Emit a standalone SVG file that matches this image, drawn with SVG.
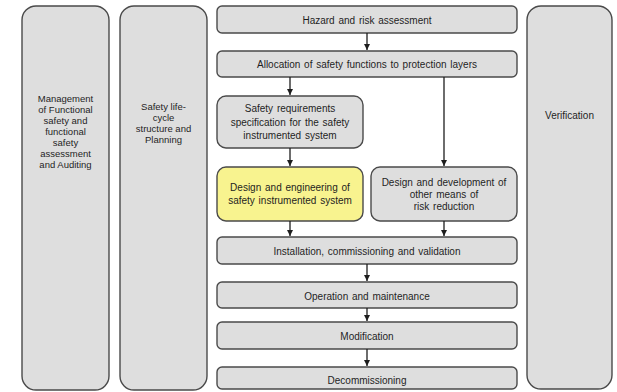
<svg xmlns="http://www.w3.org/2000/svg" width="617" height="392" viewBox="0 0 617 392">
<defs>
<style>
.b{fill:#dedede;stroke:#4a4a4a;stroke-width:1.4}
.y{fill:#f8f38f;stroke:#4a4a4a;stroke-width:1.4}
text{font-family:"Liberation Sans",Arial,sans-serif;fill:#1e1e1e;text-anchor:middle;dominant-baseline:central}
.t10{font-size:10px;word-spacing:1px}
.t9{font-size:9.5px}
.c{stroke:#1e1e1e;stroke-width:1.3;fill:none;marker-end:url(#ah)}
</style>
<marker id="ah" viewBox="0 0 8 8" refX="8" refY="4" markerWidth="6" markerHeight="6" markerUnits="userSpaceOnUse" orient="auto">
<path d="M0,0 L8,4 L0,8 z" fill="#1e1e1e"/>
</marker>
</defs>
<rect width="617" height="392" fill="#ffffff"/>
<g id="management">
<rect class="b" x="22" y="6" width="87" height="384" rx="14"/>
<text class="t9" x="65.5"><tspan x="65.5" y="98">Management</tspan><tspan x="65.5" y="109">of Functional</tspan><tspan x="65.5" y="120">safety and</tspan><tspan x="65.5" y="131">functional</tspan><tspan x="65.5" y="142">safety</tspan><tspan x="65.5" y="153">assessment</tspan><tspan x="65.5" y="164">and Auditing</tspan></text>
</g>
<g id="lifecycle">
<rect class="b" x="120" y="6" width="87" height="384" rx="14"/>
<text class="t9" x="163.5"><tspan x="163.5" y="106">Safety life-</tspan><tspan x="163.5" y="117">cycle</tspan><tspan x="163.5" y="128">structure and</tspan><tspan x="163.5" y="139">Planning</tspan></text>
</g>
<g id="verification">
<rect class="b" x="527" y="6" width="85" height="383" rx="14"/>
<text class="t10" x="569.5" y="115">Verification</text>
</g>
<g id="hazard">
<rect class="b" x="217" y="6" width="300" height="27" rx="5"/>
<text class="t10" x="367" y="20">Hazard and risk assessment</text>
</g>
<g id="allocation">
<rect class="b" x="217" y="51" width="300" height="26" rx="5"/>
<text class="t10" x="367" y="64">Allocation of safety functions to protection layers</text>
</g>
<g id="srs">
<rect class="b" x="217" y="96" width="146" height="52" rx="9"/>
<text class="t10"><tspan x="290" y="108">Safety requirements</tspan><tspan x="290" y="121.5">specification for the safety</tspan><tspan x="290" y="135">instrumented system</tspan></text>
</g>
<g id="design-sis">
<rect class="y" x="217" y="167" width="146" height="54" rx="9"/>
<text class="t10"><tspan x="290" y="187">Design and engineering of</tspan><tspan x="290" y="200">safety instrumented system</tspan></text>
</g>
<g id="design-other">
<rect class="b" x="371" y="167" width="146" height="54" rx="9"/>
<text class="t10"><tspan x="444" y="182">Design and development of</tspan><tspan x="444" y="194">other means of</tspan><tspan x="444" y="206">risk reduction</tspan></text>
</g>
<g id="installation">
<rect class="b" x="217" y="237" width="300" height="27" rx="5"/>
<text class="t10" x="367" y="251">Installation, commissioning and validation</text>
</g>
<g id="operation">
<rect class="b" x="217" y="282" width="300" height="26" rx="5"/>
<text class="t10" x="367" y="296">Operation and maintenance</text>
</g>
<g id="modification">
<rect class="b" x="217" y="322" width="300" height="27" rx="5"/>
<text class="t10" x="367" y="336">Modification</text>
</g>
<g id="decommissioning">
<rect class="b" x="217" y="367" width="300" height="22" rx="5"/>
<text class="t10" x="367" y="380">Decommissioning</text>
</g>
<g id="connectors">
<line class="c" x1="367" y1="33" x2="367" y2="50"/>
<line class="c" x1="290" y1="77" x2="290" y2="95"/>
<line class="c" x1="444" y1="77" x2="444" y2="166"/>
<line class="c" x1="290" y1="148" x2="290" y2="166"/>
<line class="c" x1="290" y1="221" x2="290" y2="236"/>
<line class="c" x1="444" y1="221" x2="444" y2="236"/>
<line class="c" x1="367" y1="264" x2="367" y2="281"/>
<line class="c" x1="367" y1="308" x2="367" y2="321"/>
<line class="c" x1="367" y1="349" x2="367" y2="366"/>
</g>
</svg>
